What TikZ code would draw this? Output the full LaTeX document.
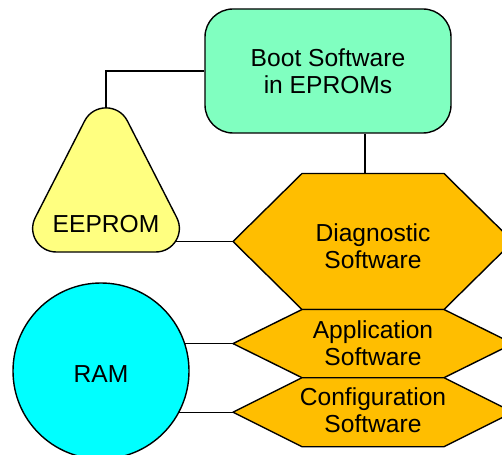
\documentclass[tikz,border=0pt]{standalone}
\usepackage{fontspec}
\setmainfont{Liberation Sans}
\usetikzlibrary{calc}
\definecolor{bootgreen}{HTML}{80FFC0}
\definecolor{eeyellow}{HTML}{FFFF80}
\definecolor{swamber}{HTML}{FFBE00}
\definecolor{ramcyan}{HTML}{00FFFF}
\tikzset{
  outline/.style={draw=black,line width=1.4pt,line join=round},
  conn/.style={line width=1.4pt},
  lbl/.style={align=center,font=\fontsize{24.6}{27}\selectfont}
}
\begin{document}
\begin{tikzpicture}[x=1pt,y=-1pt]
  \useasboundingbox (0,0) rectangle (502,454);
  \coordinate (EE) at (106,224.5); \coordinate (RA) at (101,371); \coordinate (DT) at (365,173.5);
  \foreach \n/\t/\b in {diag/173.5/309.5,app/309.5/377.7,conf/377.7/446.7}{
    \pgfmathsetmacro\m{(\t+\b)/2}
    \coordinate (\n-w) at (233,\m); \coordinate (\n-e) at (513,\m);
    \coordinate (\n-nw) at (302,\t); \coordinate (\n-ne) at (444,\t);
    \coordinate (\n-sw) at (302,\b); \coordinate (\n-se) at (444,\b);
  }
  \node[outline,fill=bootgreen,rounded corners=28pt,minimum width=246pt,minimum height=124pt,lbl] (boot) at (328,71) {Boot Software\\in EPROMs};
  % links
  \draw[conn] (boot.west) -| (EE);
  \draw[conn] (boot.south -| DT) -- (DT);
  \draw[conn] (diag-w) -- (diag-w -| EE);
  \draw[conn] (app-w) -- (app-w -| RA) (conf-w) -- (conf-w -| RA);
  % software blocks
  \foreach \n in {diag,app,conf}
    \draw[outline,fill=swamber] (\n-w)--(\n-nw)--(\n-ne)--(\n-e)--(\n-se)--(\n-sw)--cycle;
  % rounded triangle, corner radius about 24
  \draw[outline,fill=eeyellow] (56.4,252) -- (155.6,252) .. controls (173.5,252) and (184.8,233.4) .. (176.7,217.5)
    -- (127.4,121) .. controls (118.5,103.5) and (93.5,103.5) .. (84.6,121)
    -- (35.3,217.5) .. controls (27.2,233.4) and (38.5,252) .. cycle;
  \node[outline,fill=ramcyan,circle,minimum size=176pt] (ram) at (RA) {};
  \foreach \p/\txt/\y in {diag/Diagnostic\\Software/246.3,app/Application\\Software/343.2,conf/Configuration\\Software/409.8}
    \node[lbl] (\p-lbl) at (373,\y) {\txt};
  \node[lbl] (eeprom) at (EE) {EEPROM};
  \node[lbl] (ram-lbl) at (101,374.5) {RAM};
\end{tikzpicture}
\end{document}
